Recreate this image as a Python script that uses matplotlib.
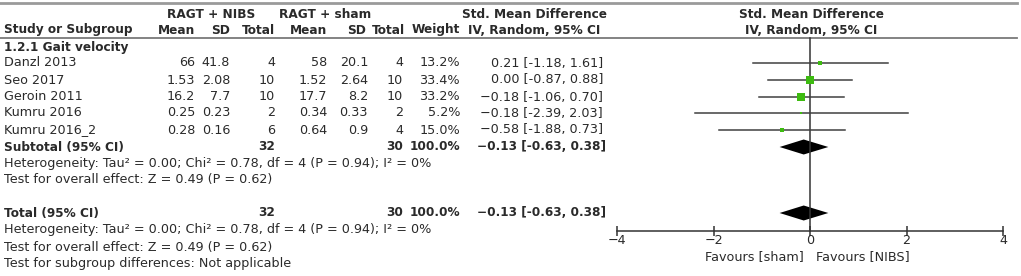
import numpy as np
import matplotlib
matplotlib.use('Agg')
import matplotlib.pyplot as plt

# data
studies = ['Danzl 2013', 'Seo 2017', 'Geroin 2011', 'Kumru 2016', 'Kumru 2016_2']
nibs_mean = [66, 1.53, 16.2, 0.25, 0.28]
nibs_sd = [41.8, 2.08, 7.7, 0.23, 0.16]
nibs_n = [4, 10, 10, 2, 6]
sham_mean = [58, 1.52, 17.7, 0.34, 0.64]
sham_sd = [20.1, 2.64, 8.2, 0.33, 0.9]
sham_n = [4, 10, 10, 2, 4]
weights = [13.2, 33.4, 33.2, 5.2, 15.0]
smd = [0.21, 0.00, -0.18, -0.18, -0.58]
ci_lo = [-1.18, -0.87, -1.06, -2.39, -1.88]
ci_hi = [1.61, 0.88, 0.70, 2.03, 0.73]
pooled = [-0.13, -0.63, 0.38]
ticks = [-4, -2, 0, 2, 4]
het_text = 'Heterogeneity: Tau² = 0.00; Chi² = 0.78, df = 4 (P = 0.94); I² = 0%'
effect_text = 'Test for overall effect: Z = 0.49 (P = 0.62)'

W, H = 1021, 276
TXT = '#2a2a2a'
FS = 9.2
FS_BOLD = 8.7
plt.rcParams['font.family'] = ['DejaVu Sans']

fig = plt.figure(figsize=(W / 100, H / 100), dpi=100)
ax = fig.add_axes([0, 0, 1, 1])
ax.set_xlim(0, W)
ax.set_ylim(H, 0)
ax.axis('off')


def fmt_ci(m, lo, hi):
    s = f'{m:.2f} [{lo:.2f}, {hi:.2f}]'
    if s.startswith('-'):
        s = '−' + s[1:]
    return s


def t(x, y, s, ha='left', bold=False):
    ax.text(x, y, s, ha=ha, va='center', fontsize=FS_BOLD if bold else FS, color=TXT,
            fontweight='bold' if bold else 'normal')


# header
ax.plot([0, 1017], [3, 3], color='#9a9a9a', lw=2)
ax.plot([0, 1017], [38, 38], color='#7a7a7a', lw=1.3)
t(211, 14, 'RAGT + NIBS', 'center', True)
t(325, 14, 'RAGT + sham', 'center', True)
t(534, 14, 'Std. Mean Difference', 'center', True)
t(811, 14, 'Std. Mean Difference', 'center', True)
t(4, 30, 'Study or Subgroup', bold=True)
cols = [195, 230, 275, 327, 368, 403, 460]
head_x = [195, 230, 275, 327, 366, 405, 460]
for x, lab in zip(head_x, ['Mean', 'SD', 'Total', 'Mean', 'SD', 'Total', 'Weight']):
    t(x, 30, lab, 'right', True)
t(534, 30, 'IV, Random, 95% CI', 'center', True)
t(811, 30, 'IV, Random, 95% CI', 'center', True)
t(4, 47, '1.2.1 Gait velocity', bold=True)

row_y = [63, 80, 97, 113, 130]
for i, y in enumerate(row_y):
    t(4, y, studies[i])
    vals = [nibs_mean[i], nibs_sd[i], nibs_n[i], sham_mean[i], sham_sd[i], sham_n[i]]
    for x, v in zip(cols, vals):
        t(x, y, str(v), 'right')
    t(cols[6], y, f'{weights[i]:.1f}%', 'right')
    t(603, y, fmt_ci(smd[i], ci_lo[i], ci_hi[i]), 'right')

for y, lab in [(147, 'Subtotal (95% CI)'), (213, 'Total (95% CI)')]:
    t(4, y, lab, bold=True)
    t(cols[2], y, str(sum(nibs_n)), 'right', True)
    t(cols[5], y, str(sum(sham_n)), 'right', True)
    t(cols[6], y, f'{sum(weights):.1f}%', 'right', True)
    t(606, y, fmt_ci(*pooled), 'right', True)
t(4, 163, het_text)
t(4, 180, effect_text)
t(4, 230, het_text)
t(4, 247, effect_text)
t(4, 264, 'Test for subgroup differences: Not applicable')

# forest panel
fx = fig.add_axes([617 / W, 0, 386 / W, 1])
fx.set_xlim(-4, 4)
fx.set_ylim(H, 0)
fx.patch.set_alpha(0)
for s in ['top', 'left', 'right']:
    fx.spines[s].set_visible(False)
fx.spines['bottom'].set_position(('data', 231))
fx.spines['bottom'].set_color('#333333')
fx.spines['bottom'].set_linewidth(1.1)
fx.set_yticks([])
fx.set_xticks(ticks)
fx.set_xticklabels([str(v).replace('-', '−') for v in ticks])
fx.tick_params(axis='x', direction='inout', length=7, width=1.1, color='#333333',
               labelsize=FS, labelcolor=TXT, pad=-1)
fx.plot([0, 0], [38, 231], color='#333333', lw=1.1)

for i, y in enumerate(row_y):
    fx.plot([ci_lo[i], ci_hi[i]], [y, y], color='#404040', lw=1.1)
    side = 1.25 * np.sqrt(weights[i]) * 0.72
    fx.plot(smd[i], y, marker='s', ms=side, color='#3dbb10', mec='#3dbb10', mew=0)

for y in [147, 213]:
    m, lo, hi = pooled
    fx.fill([lo, m, hi, m], [y, y - 7.5, y, y + 7.5], color='black', lw=0)

fx.text(-0.12, 257, 'Favours [sham]', ha='right', va='center', fontsize=FS, color=TXT)
fx.text(0.12, 257, 'Favours [NIBS]', ha='left', va='center', fontsize=FS, color=TXT)

fig.savefig('out.png', dpi=100)
